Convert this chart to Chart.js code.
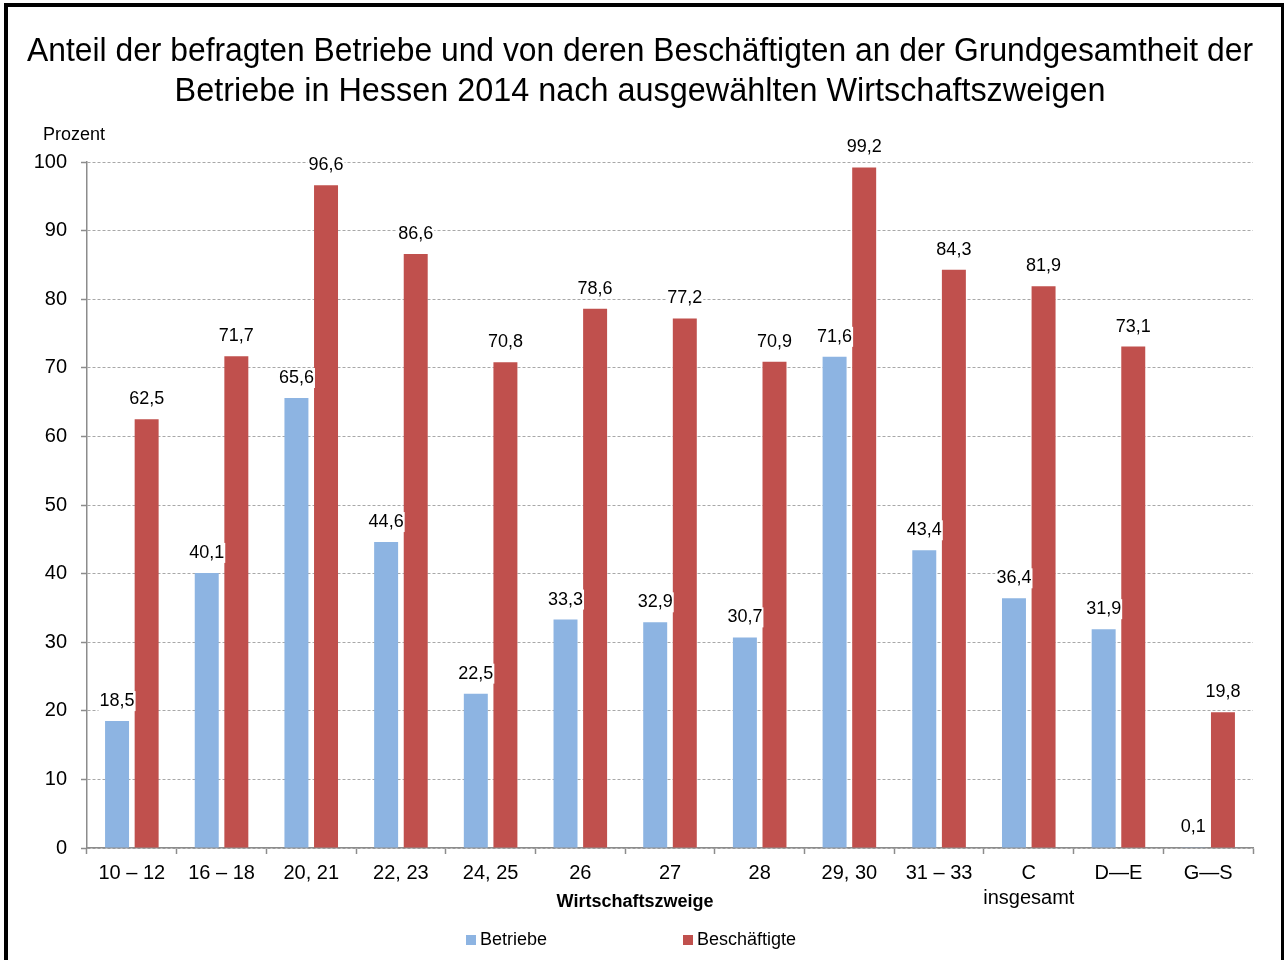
<!DOCTYPE html>
<html>
<head>
<meta charset="utf-8">
<title>Anteil der befragten Betriebe</title>
<script src="https://cdn.jsdelivr.net/npm/chart.js@4.4.1/dist/chart.umd.min.js"></script>
<style>
  html, body { margin: 0; padding: 0; background: #fff; }
  #wrap { position: relative; width: 1284px; height: 960px; overflow: hidden; }
  #frame {
    position: absolute; left: 4px; top: 3px; width: 1280px; height: 980px;
    box-sizing: border-box; border: solid #000; border-width: 4px 3px 0 4px;
    pointer-events: none;
  }
  canvas { position: absolute; left: 0; top: 0; }
</style>
</head>
<body>
<div id="wrap">
  <canvas id="chart" width="1284" height="960"></canvas>
  <div id="frame"></div>
</div>
<script>
const kategorien = ['10 – 12', '16 – 18', '20, 21', '22, 23', '24, 25', '26', '27', '28', '29, 30', '31 – 33', ['C', 'insgesamt'], 'D—E', 'G—S'];
const betriebe = [18.5, 40.1, 65.6, 44.6, 22.5, 33.3, 32.9, 30.7, 71.6, 43.4, 36.4, 31.9, 0.1];
const beschaeftigte = [62.5, 71.7, 96.6, 86.6, 70.8, 78.6, 77.2, 70.9, 99.2, 84.3, 81.9, 73.1, 19.8];
const titel = ['Anteil der befragten Betriebe und von deren Beschäftigten an der Grundgesamtheit der',
               'Betriebe in Hessen 2014 nach ausgewählten Wirtschaftszweigen'];

const schrift = '"Liberation Sans", Arial, sans-serif';

// Werte über den Säulen, mit weißem Hintergrund
const wertePlugin = {
  id: 'werte',
  afterDatasetsDraw(chart) {
    const ctx = chart.ctx;
    ctx.save();
    ctx.font = '18px ' + schrift;
    ctx.textAlign = 'center';
    ctx.textBaseline = 'middle';
    chart.data.datasets.forEach((ds, i) => {
      chart.getDatasetMeta(i).data.forEach((bar, j) => {
        const txt = ds.data[j].toFixed(1).replace('.', ',');
        const w = ctx.measureText(txt).width;
        const y = bar.y - 20;
        ctx.fillStyle = '#fff';
        ctx.fillRect(bar.x - w / 2 - 1, y - 10, w + 2, 20);
        ctx.fillStyle = '#000';
        ctx.fillText(txt, bar.x, y);
      });
    });
    ctx.restore();
  }
};

// Achsenbeschriftungen und Legende
const textPlugin = {
  id: 'texte',
  afterDraw(chart) {
    const ctx = chart.ctx;
    ctx.save();
    ctx.fillStyle = '#000';
    ctx.textBaseline = 'middle';
    ctx.textAlign = 'left';
    ctx.font = '18px ' + schrift;
    ctx.fillText('Prozent', 43, 135);

    ctx.textAlign = 'center';
    ctx.font = 'bold 18px ' + schrift;
    ctx.fillText('Wirtschaftszweige', 635, 902);

    ctx.textAlign = 'left';
    ctx.font = '18px ' + schrift;
    const legX = [466, 683];
    chart.data.datasets.forEach((ds, i) => {
      ctx.fillStyle = ds.backgroundColor;
      ctx.fillRect(legX[i], 935, 10, 10);
      ctx.fillStyle = '#000';
      ctx.fillText(ds.label, legX[i] + 14, 940);
    });
    ctx.restore();
  }
};

new Chart(document.getElementById('chart'), {
  type: 'bar',
  data: {
    labels: kategorien,
    datasets: [
      { label: 'Betriebe', data: betriebe, backgroundColor: '#8DB4E2' },
      { label: 'Beschäftigte', data: beschaeftigte, backgroundColor: '#C0504D' }
    ]
  },
  options: {
    responsive: false,
    devicePixelRatio: 1,
    animation: false,
    categoryPercentage: 0.66,
    barPercentage: 0.81,
    layout: { padding: { top: 10, left: 27, right: 31, bottom: 52 } },
    plugins: {
      legend: { display: false },
      tooltip: { enabled: false },
      title: {
        display: true,
        text: titel,
        color: '#000',
        font: { family: schrift, size: 32.4, weight: 'normal', lineHeight: 1.235 },
        padding: { top: 22, bottom: 50 }
      }
    },
    scales: {
      x: {
        afterFit(scale) { scale.height = 60; },
        grid: { drawOnChartArea: false, drawTicks: true, tickLength: 6, tickColor: '#8c8c8c', tickWidth: 1.5 },
        border: { color: '#8c8c8c', width: 1.5 },
        ticks: {
          color: '#000', maxRotation: 0, autoSkip: false, padding: 7,
          font: { family: schrift, size: 20, lineHeight: 1.25 }
        }
      },
      y: {
        min: 0, max: 100,
        afterFit(scale) { scale.width = 60; },
        grid: { color: '#a8a8a8', lineWidth: 1, tickLength: 6, tickColor: '#8c8c8c', tickWidth: 1.5 },
        border: { color: '#8c8c8c', width: 1.5, dash: [3, 2] },
        ticks: {
          stepSize: 10, color: '#000', padding: 14,
          font: { family: schrift, size: 20 }
        }
      }
    }
  },
  plugins: [wertePlugin, textPlugin]
});
</script>
</body>
</html>
